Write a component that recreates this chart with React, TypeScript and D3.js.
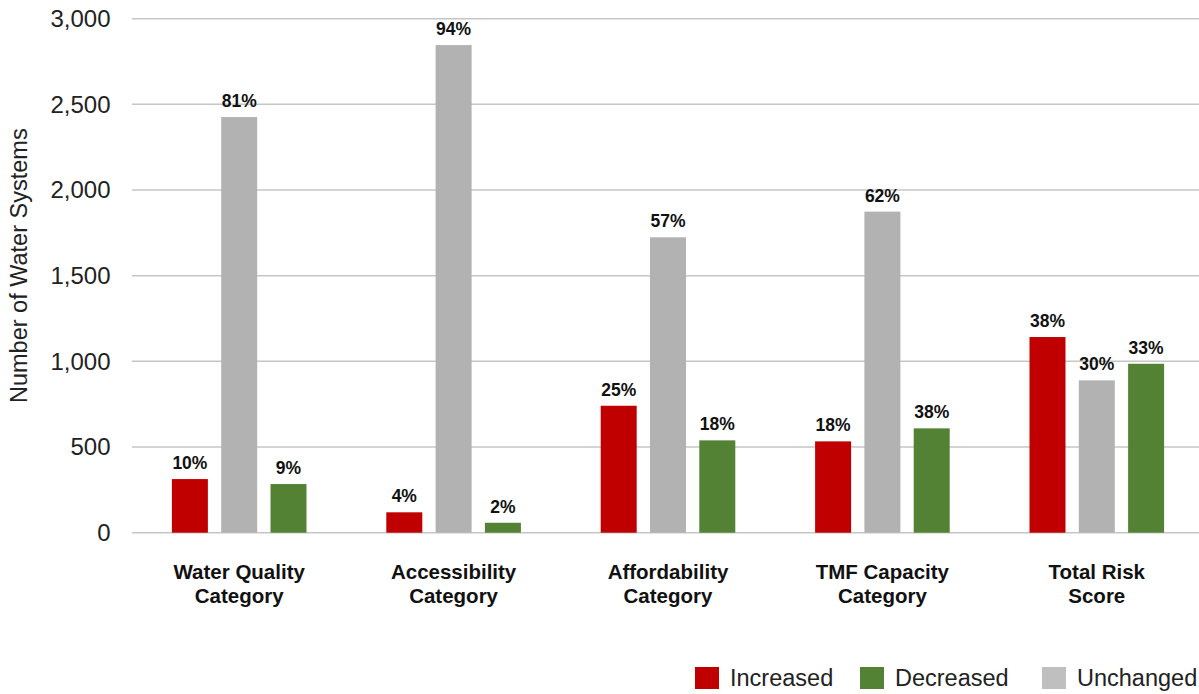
import * as d3 from 'd3';

const categories = [
  ['Water Quality', 'Category'],
  ['Accessibility', 'Category'],
  ['Affordability', 'Category'],
  ['TMF Capacity', 'Category'],
  ['Total Risk', 'Score'],
];

// bar order inside a group: Increased, Unchanged, Decreased
const seriesOrder = ['Increased', 'Unchanged', 'Decreased'];
const legendOrder = ['Increased', 'Decreased', 'Unchanged'];

const increased = [313, 119, 741, 533, 1142];
const unchanged = [2426, 2846, 1724, 1874, 889];
const decreased = [284, 58, 539, 609, 986];

const increasedPct = ['10%', '4%', '25%', '18%', '38%'];
const unchangedPct = ['81%', '94%', '57%', '62%', '30%'];
const decreasedPct = ['9%', '2%', '18%', '38%', '33%'];

const yTicks = [0, 500, 1000, 1500, 2000, 2500, 3000];

const colors: Record<string, string> = {
  Increased: '#C00000',
  Decreased: '#548235',
  Unchanged: '#B2B2B2',
};
const legendColors: Record<string, string> = {
  Increased: '#C00000',
  Decreased: '#548235',
  Unchanged: '#BFBFBF',
};

const font = '"Liberation Sans", Arial, Helvetica, sans-serif';

export default function App() {
  const width = 1199;
  const height = 694;
  const margin = { top: 18.7, left: 132, right: -5, bottom: 161.3 };

  const keys = categories.map((c) => c.join(' '));
  const x = d3.scaleBand<string>()
    .domain(keys)
    .range([margin.left, width - margin.right]);

  const inner = d3.scaleBand<string>()
    .domain(seriesOrder)
    .range([-67.3, 67.3])
    .paddingInner(0.27);

  const y = d3.scaleLinear()
    .domain([0, 3000])
    .range([height - margin.bottom, margin.top]);

  const fmt = d3.format(',');

  const valuesFor: Record<string, number[]> = {
    Increased: increased,
    Unchanged: unchanged,
    Decreased: decreased,
  };
  const pctFor: Record<string, string[]> = {
    Increased: increasedPct,
    Unchanged: unchangedPct,
    Decreased: decreasedPct,
  };

  const bars = keys.flatMap((k, i) =>
    seriesOrder.map((s) => ({
      key: k,
      series: s,
      value: valuesFor[s][i],
      label: pctFor[s][i],
    }))
  );

  // legend layout
  const legendItems = [
    { name: 'Increased', x: 695 },
    { name: 'Decreased', x: 860 },
    { name: 'Unchanged', x: 1042 },
  ];

  return (
    <svg
      width={width}
      height={height}
      style={{ position: 'absolute', left: 0, top: 0, background: '#fff' }}
      fontFamily={font}
    >
      {/* gridlines */}
      {yTicks.map((t) => (
        <line
          key={t}
          x1={margin.left}
          x2={width}
          y1={y(t)}
          y2={y(t)}
          stroke="#C6C6C6"
          strokeWidth={1.5}
        />
      ))}

      {/* y tick labels */}
      {yTicks.map((t) => (
        <text
          key={'l' + t}
          x={110.5}
          y={y(t)}
          dy="0.35em"
          textAnchor="end"
          fontSize={24}
          fill="#222"
        >
          {fmt(t)}
        </text>
      ))}

      <text
        transform={`translate(27,${(y(0) + y(3000)) / 2 - 10}) rotate(-90)`}
        textAnchor="middle"
        fontSize={23.5}
        fill="#222"
      >
        Number of Water Systems
      </text>

      {/* bars */}
      {bars.map((b) => {
        const cx = (x(b.key) ?? 0) + x.bandwidth() / 2;
        const bx = cx + (inner(b.series) ?? 0);
        return (
          <g key={b.key + b.series}>
            <rect
              x={bx}
              y={y(b.value)}
              width={inner.bandwidth()}
              height={y(0) - y(b.value)}
              fill={colors[b.series]}
            />
            <text
              x={bx + inner.bandwidth() / 2}
              y={y(b.value) - 10}
              textAnchor="middle"
              fontSize={17.5}
              fontWeight="bold"
              fill="#111"
            >
              {b.label}
            </text>
          </g>
        );
      })}

      {/* category labels */}
      {categories.map((c, i) => {
        const cx = (x(keys[i]) ?? 0) + x.bandwidth() / 2;
        return (
          <text key={keys[i]} textAnchor="middle" fontSize={20.5} fontWeight="bold" fill="#111">
            <tspan x={cx} y={579}>{c[0]}</tspan>
            <tspan x={cx} y={603}>{c[1]}</tspan>
          </text>
        );
      })}

      {/* legend */}
      {legendItems.map((l) => (
        <g key={l.name}>
          <rect x={l.x} y={667} width={24} height={22} fill={legendColors[l.name]} />
          <text x={l.x + 35} y={678} dy="0.35em" fontSize={23.5} fill="#222">
            {l.name}
          </text>
        </g>
      ))}
    </svg>
  );
}
